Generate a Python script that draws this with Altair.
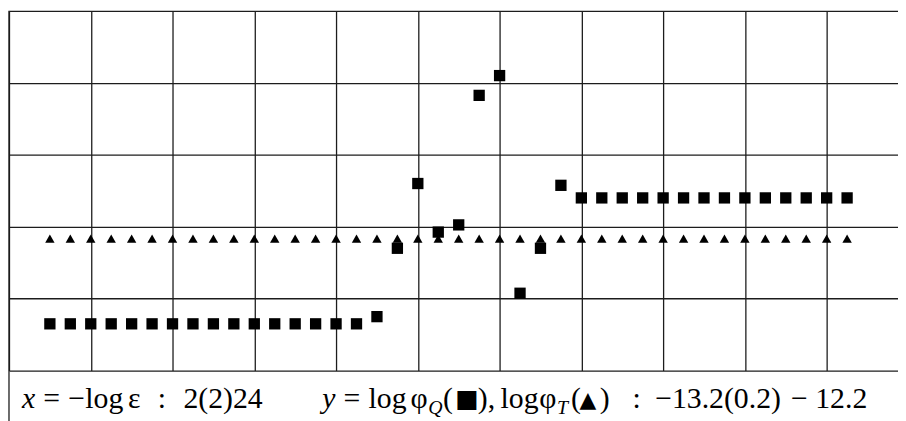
import altair as alt
import pandas as pd

# -log(eps) values of the points
x_values = [3.0, 3.5, 4.0, 4.5, 5.0, 5.5, 6.0, 6.5, 7.0, 7.5,
            8.0, 8.5, 9.0, 9.5, 10.0, 10.5, 11.0, 11.5, 12.0, 12.5,
            13.0, 13.5, 14.0, 14.5, 15.0, 15.5, 16.0, 16.5, 17.0, 17.5,
            18.0, 18.5, 19.0, 19.5, 20.0, 20.5, 21.0, 21.5, 22.0, 22.5]

# log phi_Q (squares)
log_phi_Q = [-13.07, -13.07, -13.07, -13.07, -13.07, -13.07, -13.07, -13.07,
             -13.07, -13.07, -13.07, -13.07, -13.07, -13.07, -13.07, -13.07,
             -13.05, -12.86, -12.68, -12.815, -12.795, -12.435, -12.38, -12.985,
             -12.86, -12.685, -12.72, -12.72, -12.72, -12.72, -12.72, -12.72,
             -12.72, -12.72, -12.72, -12.72, -12.72, -12.72, -12.72, -12.72]

# log phi_T (triangles)
log_phi_T = [-12.833, -12.833, -12.833, -12.833, -12.833, -12.833, -12.833, -12.833,
             -12.833, -12.833, -12.833, -12.833, -12.833, -12.833, -12.833, -12.833,
             -12.833, -12.833, -12.833, -12.833, -12.833, -12.833, -12.833, -12.833,
             -12.833, -12.833, -12.833, -12.833, -12.833, -12.833, -12.833, -12.833,
             -12.833, -12.833, -12.833, -12.833, -12.833, -12.833, -12.833, -12.833]

x_grid = [2, 4, 6, 8, 10, 12, 14, 16, 18, 20, 22]
y_grid = [-13.2, -13.0, -12.8, -12.6, -12.4, -12.2]

df = pd.DataFrame({"x": x_values, "Q": log_phi_Q, "T": log_phi_T})

W, H = 897, 363
xs = alt.Scale(domain=[2, 23.745], nice=False, zero=False)
ys = alt.Scale(domain=[-13.2, -12.2], nice=False, zero=False)

GRID = "#1c1c1c"
FONT = "Liberation Serif"

x_axis = alt.Axis(values=x_grid, grid=True, labels=False, ticks=False, domain=False,
                  title=None, gridColor=GRID, gridWidth=1.3, gridOpacity=1)
y_axis = alt.Axis(values=y_grid, grid=True, labels=False, ticks=False, domain=False,
                  title=None, gridColor=GRID, gridWidth=1.3, gridOpacity=1)

base = alt.Chart(df)

squares = base.mark_point(shape="square", filled=True, color="black", size=130, opacity=1).encode(
    x=alt.X("x:Q", scale=xs, axis=x_axis),
    y=alt.Y("Q:Q", scale=ys, axis=y_axis),
)

triangles = base.mark_point(shape="triangle-up", filled=True, color="black", size=90, opacity=1).encode(
    x=alt.X("x:Q", scale=xs, axis=x_axis),
    y=alt.Y("T:Q", scale=ys, axis=y_axis),
)

left_border = alt.Chart(pd.DataFrame({"x": [x_grid[0]]})).mark_rule(color=GRID, strokeWidth=1.3).encode(
    x=alt.X("x:Q", scale=xs, axis=x_axis),
    y=alt.value(0),
    y2=alt.value(420),
)


def txt(s, px, py, size=30, italic=False, align="left", font=FONT):
    kw = dict(text=s, font=font, fontSize=size, align=align, baseline="alphabetic", color="black")
    if italic:
        kw["fontStyle"] = "italic"
    return alt.Chart(pd.DataFrame({"a": [0]})).mark_text(**kw).encode(
        x=alt.value(px - 9), y=alt.value(py - 9))


BL = 410
SUB = 416
labels = [
    txt("x", 22, BL, italic=True),
    txt("=", 43.6, BL),
    txt("\u2212", 68.8, BL),
    txt("log", 86, BL),
    txt("\u03b5", 129, BL),
    txt(":", 159, BL),
    txt("2(2)24", 265, BL, align="right"),
    txt("y", 325, BL, italic=True),
    txt("=", 346.6, BL),
    txt("log", 371.8, BL),
    txt("\u03c6", 414, BL),
    txt("Q", 432, SUB, size=20, italic=True),
    txt("(", 447, BL),
    txt("\u25a0", 471, BL - 1, size=25, font="DejaVu Sans", align="center"),
    txt("),", 482, BL),
    txt("log", 505, BL),
    txt("\u03c6", 544, BL),
    txt("T", 562, SUB, size=20, italic=True),
    txt("(", 576, BL),
    txt("\u25b2", 593, BL - 1, size=22, font="DejaVu Sans", align="center"),
    txt(")", 605, BL),
    txt(":", 638, BL),
    txt("\u221213.2(0.2)", 661, BL),
    txt("\u2212", 798, BL),
    txt("12.2", 875, BL, align="right"),
]

chart = alt.layer(squares, triangles, left_border, *labels).properties(
    width=W, height=H,
    autosize=alt.AutoSizeParams(type="none"),
    padding={"left": 1, "top": 1, "right": 0, "bottom": 49},
    background="white",
).configure_view(stroke=None)

chart.save("out.html", embed_options={"renderer": "svg", "actions": False})
